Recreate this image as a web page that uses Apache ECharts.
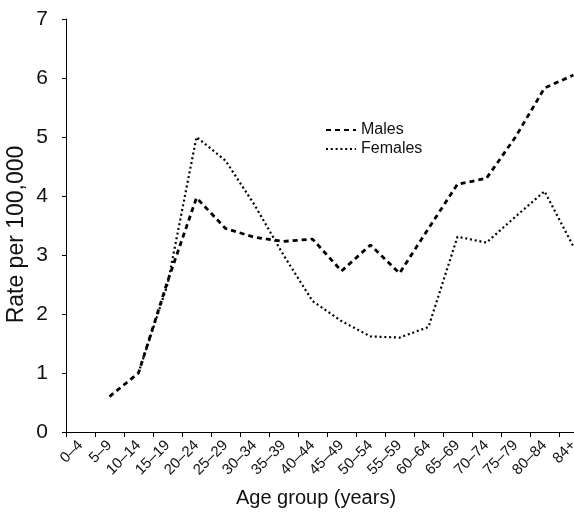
<!DOCTYPE html>
<html>
<head>
<meta charset="utf-8">
<script src="https://cdn.jsdelivr.net/npm/echarts@6/dist/echarts.min.js"></script>
<style>
html,body{margin:0;padding:0;background:#fff;}
#chart{width:574px;height:517px;}
</style>
</head>
<body>
<div id="chart"></div>
<script>
const categories = ['0\u20134','5\u20139','10\u201314','15\u201319','20\u201324','25\u201329','30\u201334','35\u201339','40\u201344','45\u201349','50\u201354','55\u201359','60\u201364','65\u201369','70\u201374','75\u201379','80\u201384','84+'];
const males   = [null, 0.6, 1.0, 2.55, 3.97, 3.45, 3.3, 3.23, 3.27, 2.73, 3.17, 2.69, 3.45, 4.2, 4.3, 5.0, 5.83, 6.05];
const females = [null, null, 1.0, 2.5, 5.0, 4.6, 3.85, 3.0, 2.22, 1.88, 1.62, 1.6, 1.78, 3.31, 3.21, 3.65, 4.08, 3.14];
const yTicks = [0,1,2,3,4,5,6,7];

const FONT = 'Liberation Sans, Arial, sans-serif';
const chart = echarts.init(document.getElementById('chart'), null, {renderer:'canvas'});
chart.setOption({
  animation: false,
  backgroundColor: '#fff',
  grid: { left: 66, right: -14, top: 19, bottom: 85, containLabel: false, outerBoundsMode: 'none' },
  legend: {
    orient: 'vertical', left: 320, top: 117, itemWidth: 30, itemHeight: 10, itemGap: 3,
    itemStyle: { opacity: 0 },
    textStyle: { fontFamily: FONT, fontSize: 16, color: '#111' },
    data: ['Males','Females']
  },
  xAxis: {
    type: 'category', data: categories, boundaryGap: true,
    name: 'Age group (years)', nameLocation: 'middle', nameGap: 56,
    nameTextStyle: { fontFamily: FONT, fontSize: 20, color: '#111', padding: [0,22,0,0] },
    axisLine: { lineStyle: { color: '#000', width: 1 } },
    axisTick: { show: true, alignWithLabel: false, length: 5, inside: false, lineStyle: { color: '#000' } },
    axisLabel: { interval: 0, rotate: 45, margin: 11, fontFamily: FONT, fontSize: 15, color: '#111' },
    splitLine: { show: false }
  },
  yAxis: {
    type: 'value', min: yTicks[0], max: yTicks[yTicks.length-1], interval: 1,
    name: 'Rate per 100,000', nameLocation: 'middle', nameGap: 38, nameMoveOverlap: false,
    nameTextStyle: { fontFamily: FONT, fontSize: 23, color: '#111', padding: [0,18,0,0] },
    axisLine: { show: true, lineStyle: { color: '#000', width: 1 } },
    axisTick: { show: true, length: 4, lineStyle: { color: '#000' } },
    axisLabel: { margin: 18, fontFamily: FONT, fontSize: 21, color: '#111' },
    splitLine: { show: false }
  },
  series: [
    { name: 'Males', type: 'line', data: males, symbol: 'none', connectNulls: false,
      itemStyle: { color: '#000' },
      lineStyle: { color: '#000', width: 2.8, type: [5,4] } },
    { name: 'Females', type: 'line', data: females, symbol: 'none', connectNulls: false,
      itemStyle: { color: '#000' },
      lineStyle: { color: '#000', width: 2.2, type: [2,2.8] } }
  ]
});
</script>
</body>
</html>
